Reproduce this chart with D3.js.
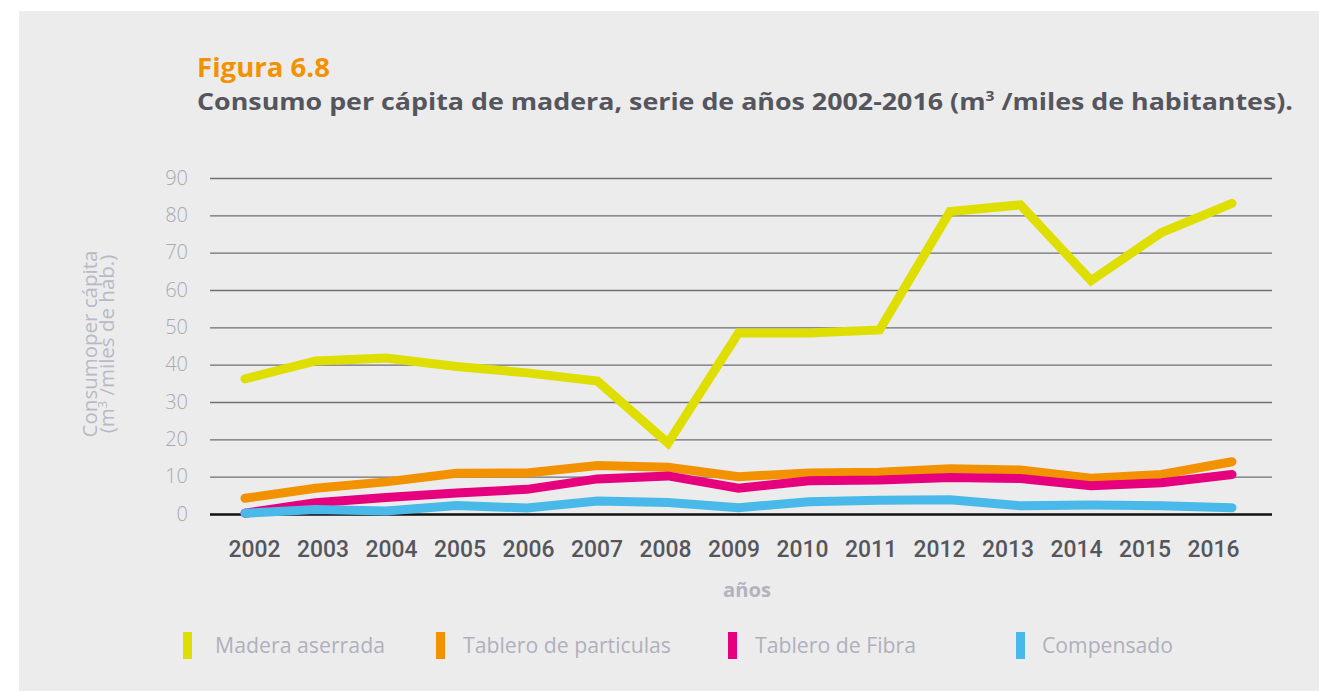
<!DOCTYPE html>
<html>
<head>
<meta charset="utf-8">
<script src="https://cdn.jsdelivr.net/npm/d3@7"></script>
<style>
  html, body { margin: 0; padding: 0; background: #ffffff; }
  svg { display: block; }
</style>
</head>
<body>
<svg id="chart" width="1319" height="691"></svg>
<script>
const years = ["2002","2003","2004","2005","2006","2007","2008","2009","2010","2011","2012","2013","2014","2015","2016"];
const maderaAserrada = [36.2, 41.0, 41.8, 39.5, 37.8, 35.6, 19.0, 48.5, 48.5, 49.3, 81.0, 82.8, 62.5, 75.4, 83.2];
const tableroParticulas = [4.2, 6.9, 8.6, 10.9, 11.0, 13.0, 12.5, 10.0, 11.0, 11.2, 12.1, 11.8, 9.6, 10.6, 14.0];
const tableroFibra = [0.2, 3.0, 4.4, 5.6, 6.6, 9.4, 10.2, 6.9, 8.9, 9.1, 9.8, 9.5, 7.6, 8.4, 10.6];
const compensado = [0.2, 1.2, 0.8, 2.3, 1.6, 3.5, 3.1, 1.7, 3.3, 3.7, 3.8, 2.2, 2.4, 2.2, 1.7];
const yTicks = [0, 10, 20, 30, 40, 50, 60, 70, 80, 90];
const seriesNames = ["Madera aserrada", "Tablero de particulas", "Tablero de Fibra", "Compensado"];
const seriesColors = ["#dede00", "#f39200", "#e6007e", "#49b9e9"];

const series = [maderaAserrada, tableroParticulas, tableroFibra, compensado];

const svg = d3.select("#chart");

// panel background
svg.append("rect").attr("x", 19).attr("y", 11).attr("width", 1300).attr("height", 680).attr("fill", "#ececec");

// titles
svg.append("text").attr("x", 197).attr("y", 77)
  .attr("font-family", "'Open Sans', sans-serif").attr("font-weight", 700)
  .attr("font-size", 27).attr("fill", "#f39200")
  .attr("textLength", 133).attr("lengthAdjust", "spacingAndGlyphs").text("Figura 6.8");
const sub = svg.append("text").attr("x", 197).attr("y", 110)
  .attr("font-family", "'Open Sans', sans-serif").attr("font-weight", 700)
  .attr("font-size", 24).attr("fill", "#55565d")
  .attr("textLength", 1096).attr("lengthAdjust", "spacingAndGlyphs");
sub.append("tspan").text("Consumo per cápita de madera, serie de años 2002-2016 (m");
sub.append("tspan").attr("font-size", 14).attr("dy", -9).text("3");
sub.append("tspan").attr("dy", 9).text(" /miles de habitantes).");

// scales
const x = d3.scalePoint().domain(years).range([245, 1232]);
const xLab = d3.scalePoint().domain(years).range([254, 1213]);
const y = d3.scaleLinear().domain([0, 90]).range([514, 178]);

// grid
const grid = svg.append("g").attr("transform", "translate(210,0)")
  .call(d3.axisLeft(y).tickValues(yTicks).tickSize(-(1272 - 210)).tickFormat(""));
grid.select(".domain").remove();
grid.selectAll(".tick line").attr("stroke", "#6f6f75").attr("stroke-width", 1.4);
grid.selectAll(".tick").filter(d => d === 0).select("line").attr("stroke", "#111").attr("stroke-width", 2.6);

// y tick labels
const yAx = svg.append("g").attr("transform", "translate(188,0)")
  .call(d3.axisLeft(y).tickValues(yTicks).tickSize(0).tickPadding(0));
yAx.select(".domain").remove();
yAx.selectAll("text").attr("font-family", "'Open Sans', sans-serif").attr("font-weight", 300)
  .attr("font-size", 20).attr("fill", "#a9a9b4").attr("dy", "0.3em");

// x axis labels
const xAx = svg.append("g").attr("transform", "translate(0,557)")
  .call(d3.axisBottom(xLab).tickSize(0).tickPadding(0));
xAx.select(".domain").remove();
xAx.selectAll("text").attr("font-family", "Roboto, sans-serif").attr("font-weight", 500)
  .attr("font-size", 24).attr("fill", "#55565d").attr("dy", "0")
  .attr("textLength", 52).attr("lengthAdjust", "spacingAndGlyphs");

// axis titles
svg.append("text").attr("x", 747).attr("y", 597).attr("text-anchor", "middle")
  .attr("font-family", "'Open Sans', sans-serif").attr("font-weight", 700)
  .attr("font-size", 19).attr("fill", "#b3b3bf")
  .attr("textLength", 48).attr("lengthAdjust", "spacingAndGlyphs").text("años");

const yt = svg.append("text").attr("transform", "translate(0,344) rotate(-90)")
  .attr("text-anchor", "middle").attr("font-family", "'Open Sans', sans-serif")
  .attr("font-size", 20.5).attr("fill", "#b9b9c5");
yt.append("tspan").attr("x", 0).attr("y", 97).text("Consumoper cápita");
const t2 = yt.append("tspan").attr("x", 0).attr("y", 114);
t2.append("tspan").text("(m");
t2.append("tspan").attr("font-size", 13).attr("dy", -7).text("3");
t2.append("tspan").attr("dy", 7).text(" /miles de hab.)");

// lines
const line = d3.line().x((d, i) => x(years[i])).y(d => y(d));
series.forEach((s, k) => {
  svg.append("path").datum(s).attr("d", line)
    .attr("fill", "none").attr("stroke", seriesColors[k]).attr("stroke-width", 9)
    .attr("stroke-linecap", "round").attr("stroke-linejoin", "miter");
});

// legend
const legX = [183, 436, 728, 1016];
const legTextX = [215, 463, 755, 1042];
const legTextW = [170, 208, 161, 131];
seriesNames.forEach((n, k) => {
  svg.append("rect").attr("x", legX[k]).attr("y", 632).attr("width", 9).attr("height", 27).attr("fill", seriesColors[k]);
  svg.append("text").attr("x", legTextX[k]).attr("y", 653).attr("font-family", "'Open Sans', sans-serif")
    .attr("font-size", 21.5).attr("fill", "#b0b0bc")
    .attr("textLength", legTextW[k]).attr("lengthAdjust", "spacingAndGlyphs").text(n);
});
</script>
</body>
</html>
